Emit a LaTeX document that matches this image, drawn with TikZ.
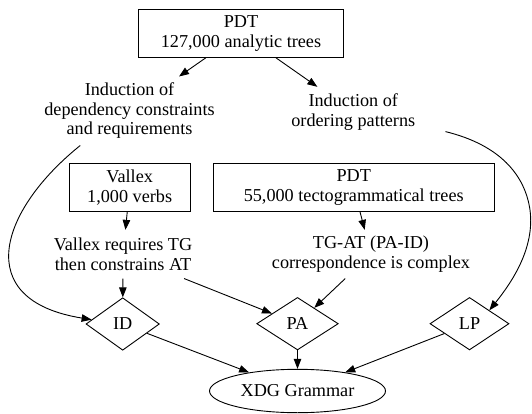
\documentclass[tikz,border=0pt]{standalone}
\usepackage{fontspec}
\setmainfont{Liberation Serif}
\usetikzlibrary{arrows.meta,shapes.geometric}
\begin{document}
\begin{tikzpicture}[x=1pt,y=-1pt,
  every node/.style={font=\fontsize{18.2}{19.5}\selectfont, align=center, inner sep=0pt},
  box/.style={draw, line width=0.9pt, rectangle, minimum height=48pt},
  txt/.style={rectangle},
  dia/.style={draw, line width=0.9pt, diamond, minimum height=52.5pt},
  ell/.style={draw, line width=0.9pt, ellipse, minimum width=176pt, minimum height=43.4pt},
  conn/.style={line width=0.9pt, -{Triangle[length=10pt,width=7.5pt]}},
]
\useasboundingbox (0,0) rectangle (532,414);
\node[box, minimum width=205pt] (pdt1) at (241,33.3) {PDT\\127,000 analytic trees};
\node[txt, minimum width=190pt, minimum height=68.6pt] (ind1) at (129.5,111) {Induction of\\dependency constraints\\and requirements};
\node[txt, minimum width=184pt, minimum height=50pt] (ind2) at (353.3,112) {Induction of\\ordering patterns};
\node[box, minimum width=121.3pt] (vallex) at (129.7,187.5) {Vallex\\1,000 verbs};
\node[box, minimum width=280.7pt] (pdt2) at (353.7,187.5) {PDT\\55,000 tectogrammatical trees};
\node[txt, minimum width=150pt, minimum height=48.3pt] (vtext) at (123,254.2) {Vallex requires TG\\then constrains AT};
\node[txt, minimum width=210pt, minimum height=48.3pt] (ttext) at (371,254.2) {TG-AT (PA-ID)\\correspondence is complex};
\node[dia, minimum width=73.4pt] (id) at (122.7,324) {ID};
\node[dia, minimum width=81.6pt] (pa) at (297.5,323.7) {PA};
\node[dia, minimum width=79pt] (lp) at (469.5,323.7) {LP};
\node[ell] (xdg) at (297.5,391) {XDG Grammar};

\draw[conn] (pdt1) -- (ind1);
\draw[conn] (pdt1) -- (ind2);
\draw[conn] (vallex) -- (vtext);
\draw[conn] (pdt2) -- (ttext);
\draw[conn] (vtext) -- (id);
\draw[conn] (vtext) -- (pa);
\draw[conn] (ttext) -- (pa);
\draw[conn] (id) -- (xdg);
\draw[conn] (pa) -- (xdg);
\draw[conn] (lp) -- (xdg);
\draw[conn] (ind1.215) .. controls (0,210) and (-30,300) .. (id.172);
\draw[conn] (ind2.-12) .. controls (500,145) and (525,175) .. (530,210) .. controls (535,248) and (512,282) .. (lp.34);
\end{tikzpicture}
\end{document}
